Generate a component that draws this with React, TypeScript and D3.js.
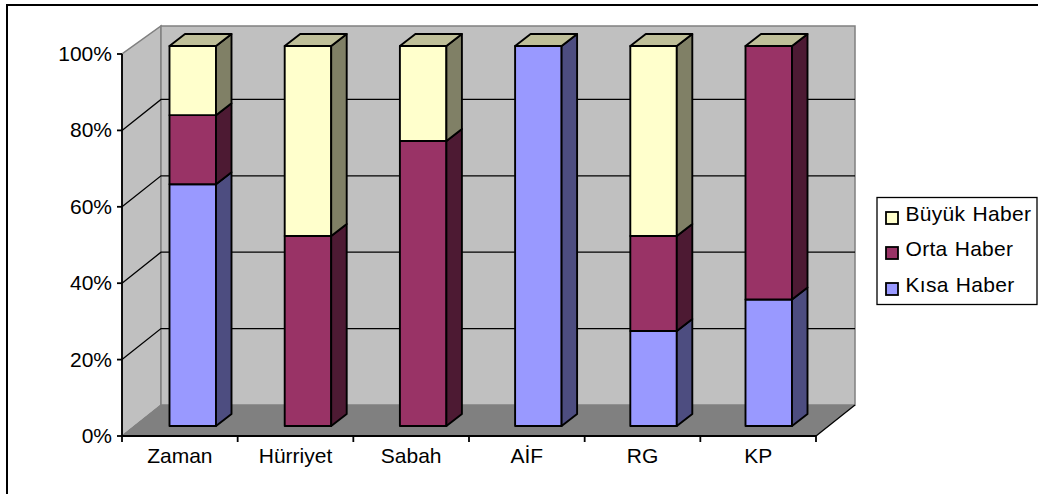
import React from "react";
import * as d3 from "d3";

const categories = ["Zaman", "Hürriyet", "Sabah", "AİF", "RG", "KP"];
const seriesNames = ["Kısa Haber", "Orta Haber", "Büyük Haber"];
const kisa = [63.6, 0, 0, 100, 25, 33.3];
const orta = [18.2, 50, 75, 0, 25, 66.7];
const buyuk = [18.2, 50, 25, 0, 50, 0];
const ticks = [0, 20, 40, 60, 80, 100];
const faceColors = ["#9999ff", "#993366", "#ffffcc"];
const sideColors = ["#4d4d80", "#4d1a33", "#808066"];
const topColor = "#bfbf99";

const FONT = "'Liberation Sans', Arial, sans-serif";

export default function App() {
  const x0 = 122, x1 = 816, dx = 39;
  const front = d3.scaleLinear().domain([0, 100]).range([436, 54]);
  const back = d3.scaleLinear().domain([0, 100]).range([405, 23]);
  const wallTop = 26;
  const band = d3.scaleBand<string>().domain(categories).range([x0, x1]);
  const barBand = d3.scaleBand<string>().domain(categories).range([169.5, 169.5 + 6 * 115.2]);
  const barY = d3.scaleLinear().domain([0, 100]).range([426, 46]);
  const barW = 46.5, sideX = 15.5, sideY = 12;
  const stacked = d3.stack<number>()
    .keys([0, 1, 2] as any)
    .value((i: number, k: any) => [kisa, orta, buyuk][k][i])(categories.map((_, i) => i));
  const legendOrder = [2, 1, 0];
  const legendBaselines = [221, 256, 292];

  return (
    <svg width={1038} height={494} style={{ position: "fixed", left: 0, top: 0, background: "#fff" }} fontFamily={FONT}>
      <path d="M7,494V5H1038" fill="none" stroke="#000" strokeWidth={2} />
      {/* walls */}
      <polygon points={`${x0},${front(0)} ${x0 + dx},${back(0)} ${x0 + dx},${wallTop} ${x0},${front(100)}`} fill="#c0c0c0" stroke="#808080" strokeWidth={1.5} />
      <rect x={x0 + dx} y={wallTop} width={x1 - x0} height={back(0) - wallTop} fill="#c0c0c0" stroke="#808080" strokeWidth={1.5} />
      <polygon points={`${x0},${front(0)} ${x0 + dx},${back(0)} ${x1 + dx},${back(0)} ${x1},${front(0)}`} fill="#808080" />
      {/* gridlines */}
      {ticks.filter((t) => t > 0 && t < 100).map((t) => (
        <path key={t} d={`M${x0},${front(t)}L${x0 + dx},${back(t)}H${x1 + dx}`} fill="none" stroke="#000" strokeWidth={1.3} />
      ))}
      <path d={`M${x1},${front(0)}L${x1 + dx},${back(0)}`} stroke="#000" strokeWidth={1.3} />
      <path d={`M${x0},${front(0)}L${x0 + dx},${back(0)}`} stroke="#808080" strokeWidth={1} />
      {/* bars */}
      {categories.map((c, i) => {
        const bx = barBand(c) as number;
        return (
          <g key={c} stroke="#000" strokeWidth={1.9} strokeLinejoin="round">
            {stacked.map((s, k) => {
              const [a, b] = s[i];
              if (b - a <= 0) return null;
              const ya = barY(a), yb = barY(b);
              return (
                <g key={k}>
                  <rect x={bx} y={yb} width={barW} height={ya - yb} fill={faceColors[k]} />
                  <polygon points={`${bx + barW},${ya} ${bx + barW + sideX},${ya - sideY} ${bx + barW + sideX},${yb - sideY} ${bx + barW},${yb}`} fill={sideColors[k]} />
                  {b >= 99.9 && (
                    <polygon points={`${bx},${yb} ${bx + sideX},${yb - sideY} ${bx + barW + sideX},${yb - sideY} ${bx + barW},${yb}`} fill={topColor} />
                  )}
                </g>
              );
            })}
          </g>
        );
      })}
      {/* axes */}
      <path d={`M${x0},${front(100)}V${front(0)}H${x1}`} fill="none" stroke="#000" strokeWidth={1.8} />
      {ticks.map((t) => (
        <g key={t}>
          <line x1={x0 - 5} x2={x0} y1={front(t)} y2={front(t)} stroke="#000" strokeWidth={1.8} />
          <text x={x0 - 10} y={front(t) + 7} textAnchor="end" fontSize={21} fill="#000">{t}%</text>
        </g>
      ))}
      {categories.map((c, i) => (
        <g key={c}>
          <line x1={x0 + band.step() * i} x2={x0 + band.step() * i} y1={front(0)} y2={front(0) + 6} stroke="#000" strokeWidth={1.8} />
          <text x={(band(c) as number) + band.bandwidth() / 2} y={463} textAnchor="middle" fontSize={21} fill="#000">{c}</text>
        </g>
      ))}
      <line x1={x1} x2={x1} y1={front(0)} y2={front(0) + 6} stroke="#000" strokeWidth={1.8} />
      {/* legend */}
      <rect x={877} y={197.5} width={160} height={107} fill="#fff" stroke="#000" strokeWidth={1.3} />
      {legendOrder.map((k, j) => (
        <g key={k}>
          <rect x={886} y={legendBaselines[j] - 9} width={12} height={12} fill={faceColors[k]} stroke="#000" strokeWidth={1.8} />
          <text x={905.5} y={legendBaselines[j]} fontSize={21} letterSpacing={0.3} wordSpacing={1} fill="#000">{seriesNames[k]}</text>
        </g>
      ))}
    </svg>
  );
}
